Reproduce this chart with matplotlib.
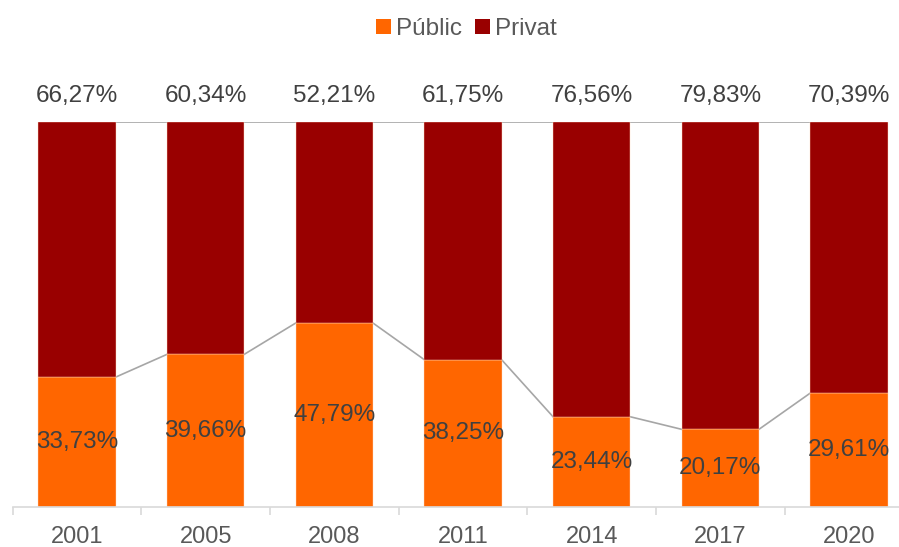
import matplotlib
matplotlib.use("Agg")
import matplotlib.pyplot as plt
from matplotlib.patches import Patch

years = ["2001", "2005", "2008", "2011", "2014", "2017", "2020"]
public = [33.73, 39.66, 47.79, 38.25, 23.44, 20.17, 29.61]
private = [66.27, 60.34, 52.21, 61.75, 76.56, 79.83, 70.39]

C_PUB = "#FF6600"
C_PRI = "#990000"
TXT = "#404040"

plt.rcParams["font.family"] = ["Liberation Sans", "DejaVu Sans"]

W, H = 899, 547
fig = plt.figure(figsize=(W / 100, H / 100), dpi=100)
left_px, right_px = 12.7, 913.3
bottom_px, top_px = 507, 122
ax = fig.add_axes([left_px / W, (H - bottom_px) / H,
                   (right_px - left_px) / W, (bottom_px - top_px) / H])

x = list(range(len(years)))
bw = 0.6
ax.bar(x, public, width=bw, color=C_PUB, edgecolor="#FFD9C0", linewidth=0.3, zorder=2)
ax.bar(x, private, width=bw, bottom=public, color=C_PRI, edgecolor="#FFD9C0", linewidth=0.3, zorder=2)

for i in range(len(x) - 1):
    ax.plot([x[i] + bw / 2, x[i + 1] - bw / 2], [public[i], public[i + 1]],
            color="#A6A6A6", lw=1.2, zorder=1)
    top_i = public[i] + private[i]
    top_n = public[i + 1] + private[i + 1]
    ax.plot([x[i] + bw / 2, x[i + 1] - bw / 2], [top_i, top_n],
            color="#A6A6A6", lw=1.2, zorder=1)

def fmt(v):
    return f"{v:.2f}".replace(".", ",") + "%"

for i in x:
    ax.text(i, public[i] / 2, fmt(public[i]), ha="center", va="center",
            fontsize=17.5, color=TXT, zorder=3)
    ax.text(i, 106.8, fmt(private[i]), ha="center", va="center",
            fontsize=17.5, color=TXT, zorder=3, clip_on=False)

ax.set_xlim(-0.5, len(x) - 0.5)
ax.set_ylim(0, 100)
ax.set_yticks([])
ax.set_xticks(x)
ax.set_xticklabels(years, fontsize=17, color="#595959")
ax.set_xticks([i - 0.5 for i in range(len(x) + 1)], minor=True)
ax.tick_params(axis="x", which="major", length=0, pad=14)
ax.tick_params(axis="x", which="minor", length=6, color="#D9D9D9", width=1.2)
for s in ["top", "left", "right"]:
    ax.spines[s].set_visible(False)
ax.spines["bottom"].set_color("#D9D9D9")
ax.spines["bottom"].set_linewidth(1.2)

handles = [Patch(facecolor=C_PUB, label="Públic"), Patch(facecolor=C_PRI, label="Privat")]
fig.legend(handles=handles, loc="center", bbox_to_anchor=(466.5 / W, 1 - 29 / H), ncol=2,
           frameon=False, fontsize=17.5, labelcolor="#595959", handlelength=0.6,
           handleheight=0.6, handletextpad=0.2, columnspacing=0.55)

fig.savefig("out.png", dpi=100)
